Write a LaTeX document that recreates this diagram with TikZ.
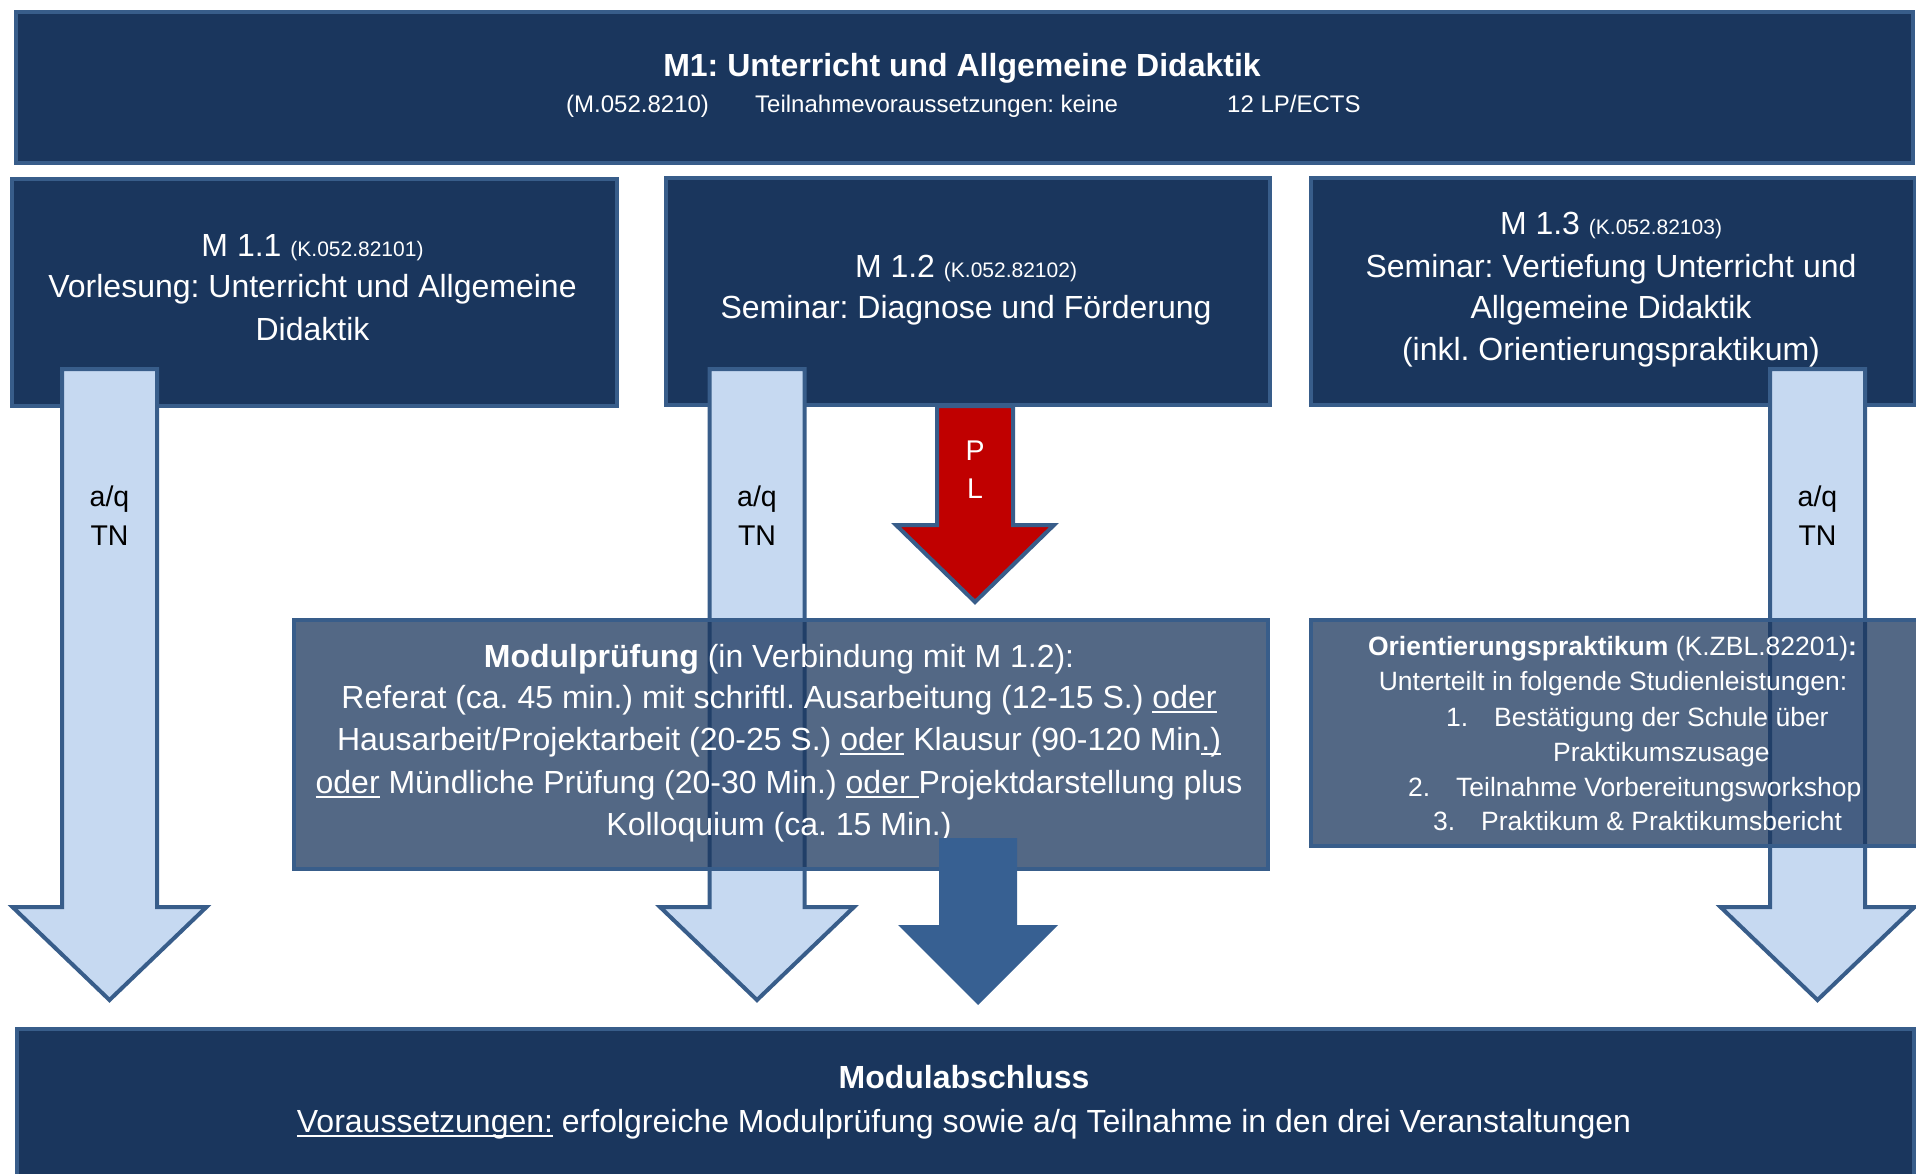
\documentclass[tikz,border=0pt]{standalone}
\usepackage{fontspec}
\setmainfont{Liberation Sans}
\frenchspacing
\definecolor{navy}{RGB}{26,54,93}
\definecolor{bord}{RGB}{56,93,138}
\definecolor{lightblue}{RGB}{198,217,241}
\definecolor{redfill}{RGB}{192,0,0}
\definecolor{darkarrow}{RGB}{55,96,146}
\newcommand\fbig{\fontsize{32}{41.5}\selectfont}
\newcommand\fsm{\fontsize{21}{25}\selectfont}
\newcommand\fsub{\fontsize{24}{28}\selectfont}
\newcommand\fmid{\fontsize{26.5}{35}\selectfont}
\newcommand\flab{\fontsize{28.5}{38}\selectfont}
\newcommand\ulx[1]{\setbox0\hbox{#1}\rlap{\rule[-5pt]{\wd0}{2pt}}\box0\relax}
\newcommand\blockarrow[7]{%
  \path[#1] (#2-#6,#3) -- (#2+#6,#3) -- (#2+#6,#4) -- (#2+#7,#4) -- (#2,#5)
    -- (#2-#7,#4) -- (#2-#6,#4) -- cycle;}
\begin{document}
\begin{tikzpicture}[x=1pt,y=-1pt,line join=miter,
  box/.style={draw=bord,line width=4pt,fill=navy,inner sep=0pt,anchor=north west},
  tbox/.style={box,fill opacity=0.75},
  tw/.style={inner sep=0pt,anchor=base,text=white,font=\fbig},
  tws/.style={tw,font=\fmid},
  lab/.style={inner sep=0pt,anchor=base,text=black,font=\flab},
  light/.style={draw=bord,line width=4pt,fill=lightblue},
  redarr/.style={draw=bord,line width=4pt,fill=redfill},
  darkarr/.style={fill=darkarrow}]
\useasboundingbox (0,0) rectangle (1916,1174);
\fill[white] (0,0) rectangle (1916,1174);

% top boxes
\node[box,minimum width=1897pt,minimum height=151pt] (m1) at (14,10) {};
\node[box,minimum width=605pt,minimum height=227pt] (m11) at (10,177) {};
\node[box,minimum width=604pt,minimum height=227pt] (m12) at (664,176) {};
\node[box,minimum width=604pt,minimum height=227pt] (m13) at (1309,176) {};

\node[tw,font=\fbig\bfseries] (t1) at (962,77) {M1: Unterricht und Allgemeine Didaktik};
\node[tw,anchor=base west,font=\fsub] (t2) at (566,113) {(M.052.8210)};
\node[tw,anchor=base west,font=\fsub] (t3) at (755,113) {Teilnahmevoraussetzungen: keine};
\node[tw,anchor=base west,font=\fsub] (t4) at (1227,113) {12 LP/ECTS};

\node[tw] (a1) at (312.5,257) {M 1.1 {\fsm (K.052.82101)}};
\node[tw] (a2) at (312.5,298) {Vorlesung: Unterricht und Allgemeine};
\node[tw] (a3) at (312.5,340) {Didaktik};

\node[tw] (b1) at (966,277) {M 1.2 {\fsm (K.052.82102)}};
\node[tw] (b2) at (966,318) {Seminar: Diagnose und Förderung};

\node[tw] (c1) at (1611,235) {M 1.3 {\fsm (K.052.82103)}};
\node[tw] (c2) at (1611,277) {Seminar: Vertiefung Unterricht und};
\node[tw] (c3) at (1611,318) {Allgemeine Didaktik};
\node[tw] (c4) at (1611,360) {(inkl. Orientierungspraktikum)};

% light arrows
\blockarrow{light}{109.5}{369}{907}{1000}{47.5}{97}
\blockarrow{light}{757}{369}{907}{1000}{47.5}{97}
\blockarrow{light}{1817.5}{369}{907}{1000}{47.5}{97}
% red arrow
\blockarrow{redarr}{975}{406}{525}{602}{38}{79}

\node[lab] (l1a) at (109.5,506) {a/q};
\node[lab] (l1b) at (109.5,545) {TN};
\node[lab] (l2a) at (757,506) {a/q};
\node[lab] (l2b) at (757,545) {TN};
\node[lab] (l3a) at (1817.5,506) {a/q};
\node[lab] (l3b) at (1817.5,545) {TN};
\node[lab,text=white] (pl1) at (975,460) {P};
\node[lab,text=white] (pl2) at (975,498) {L};

% transparent boxes
\node[tbox,minimum width=974pt,minimum height=249pt] (mp) at (292,618) {};
\node[tbox,minimum width=611pt,minimum height=226pt] (op) at (1309,618) {};

\node[tw] (p1) at (779,667) {\textbf{Modulprüfung} (in Verbindung mit M 1.2):};
\node[tw] (p2) at (779,708) {Referat (ca. 45 min.) mit schriftl. Ausarbeitung (12-15 S.) \ulx{oder}};
\node[tw] (p3) at (779,750) {Hausarbeit/Projektarbeit (20-25 S.) \ulx{oder} Klausur (90-120 Min\ulx{.)}};
\node[tw] (p4) at (779,793) {\ulx{oder} Mündliche Prüfung (20-30 Min.) \ulx{oder\ }Projektdarstellung plus};
\node[tw] (p5) at (779,835) {Kolloquium (ca. 15 Min.)};

\node[tws] (o1) at (1612.5,655) {\textbf{Orientierungspraktikum} (K.ZBL.82201)\textbf{:}};
\node[tws] (o2) at (1613,690) {Unterteilt in folgende Studienleistungen:};
\node[tws,anchor=base west] (o3n) at (1446,726) {1.};
\node[tws,anchor=base west] (o3) at (1494,726) {Bestätigung der Schule über};
\node[tws,anchor=base west] (o4) at (1553,761) {Praktikumszusage};
\node[tws,anchor=base west] (o5n) at (1408,796) {2.};
\node[tws,anchor=base west] (o5) at (1456,796) {Teilnahme Vorbereitungsworkshop};
\node[tws,anchor=base west] (o6n) at (1433,830) {3.};
\node[tws,anchor=base west] (o6) at (1481,830) {Praktikum \& Praktikumsbericht};

% dark arrow
\blockarrow{darkarr}{978}{838}{925}{1005}{39}{80}

% bottom box
\node[box,minimum width=1897pt,minimum height=160pt] (mab) at (15,1027) {};
\node[tw,font=\fbig\bfseries] (e1) at (964,1088) {Modulabschluss};
\node[tw] (e2) at (964,1132) {\ulx{Voraussetzungen:} erfolgreiche Modulprüfung sowie a/q Teilnahme in den drei Veranstaltungen};
\end{tikzpicture}
\end{document}
